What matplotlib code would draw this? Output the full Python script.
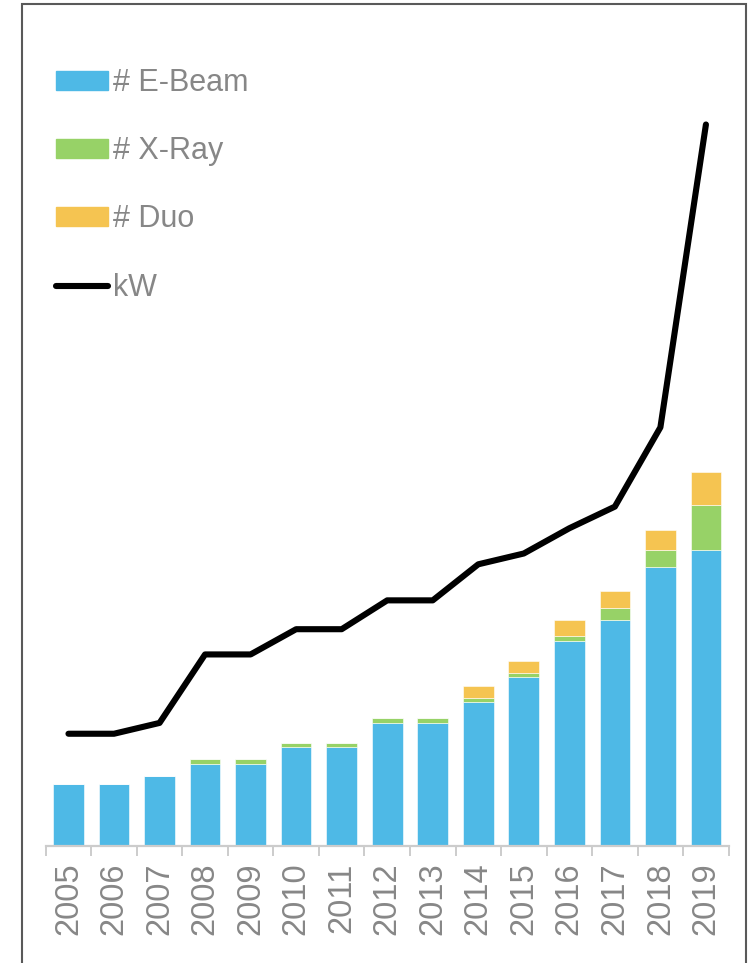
import matplotlib
matplotlib.use("Agg")
import matplotlib.pyplot as plt
from matplotlib.patches import Rectangle, Patch
from matplotlib.lines import Line2D

plt.rcParams['font.family'] = ['Liberation Sans', 'DejaVu Sans']

years = ['2005', '2006', '2007', '2008', '2009', '2010', '2011', '2012',
         '2013', '2014', '2015', '2016', '2017', '2018', '2019']
ebeam = [15, 15, 17, 20, 20, 24, 24, 30, 30, 35, 41, 50, 55, 68, 72]
xray = [0, 0, 0, 1, 1, 1, 1, 1, 1, 1, 1, 1, 3, 4, 11]
duo = [0, 0, 0, 0, 0, 0, 0, 0, 0, 3, 3, 4, 4, 5, 8]
kw = [31, 31, 34, 53, 53, 60, 60, 68, 68, 78, 81, 88, 94, 116, 200]

c_ebeam = '#4EB9E6'
c_xray = '#97D267'
c_duo = '#F5C451'
c_text = '#878787'
c_axis = '#cccccc'

W, H = 749, 963
fig = plt.figure(figsize=(W / 100, H / 100), dpi=100)

# plot area in pixels
x0, x1 = 45.7, 728.7
y_base, y_top = 845.5, 60
ax = fig.add_axes([x0 / W, 1 - y_base / H, (x1 - x0) / W, (y_base - y_top) / H])
ax2 = ax.twinx()

x = list(range(len(years)))
bw = 0.674
edge = dict(edgecolor='white', linewidth=0.4)
ax.bar(x, ebeam, bw, color=c_ebeam, label='# E-Beam', **edge)
ax.bar(x, xray, bw, bottom=ebeam, color=c_xray, label='# X-Ray', **edge)
bot2 = [a + b for a, b in zip(ebeam, xray)]
ax.bar(x, duo, bw, bottom=bot2, color=c_duo, label='# Duo', **edge)

ax2.plot(x, kw, color='black', lw=4.4, solid_capstyle='round',
         solid_joinstyle='round', label='kW')

ax.set_xlim(-0.5, len(years) - 0.5)
ax.set_ylim(0, (y_base - y_top) / 4.1)
ax2.set_ylim(0, (y_base - y_top) / 3.605)

for a in (ax, ax2):
    for s in ['top', 'right', 'left']:
        a.spines[s].set_visible(False)
    a.set_yticks([])
ax2.spines['bottom'].set_visible(False)
ax.spines['bottom'].set_color(c_axis)
ax.spines['bottom'].set_linewidth(1.6)

ax.set_xticks(x)
ax.set_xticklabels(years, rotation=90, fontsize=23.5, color=c_text)
ax.tick_params(axis='x', which='major', length=0, pad=12)
ax.set_xticks([i - 0.5 for i in range(len(years) + 1)], minor=True)
ax.tick_params(axis='x', which='minor', length=7, width=1.4, color=c_axis,
               direction='out')

handles = [Patch(color=c_ebeam, label='# E-Beam'),
           Patch(color=c_xray, label='# X-Ray'),
           Patch(color=c_duo, label='# Duo'),
           Line2D([], [], color='black', lw=4.4, solid_capstyle='round', label='kW')]
leg = fig.legend(handles=handles, loc='upper left',
                 bbox_to_anchor=(56 / W, 1 - 68 / H), frameon=False,
                 fontsize=22, labelcolor=c_text, handlelength=1.7,
                 handleheight=0.56, handletextpad=0.15, labelspacing=1.25,
                 borderpad=0, borderaxespad=0)

# outer border
fig.patches.append(Rectangle((22 / W, -0.02), (746 - 22) / W, 1.02 - 4 / H,
                             transform=fig.transFigure, fill=False,
                             edgecolor='#595959', linewidth=1.5))

fig.savefig('out.png', dpi=100)
